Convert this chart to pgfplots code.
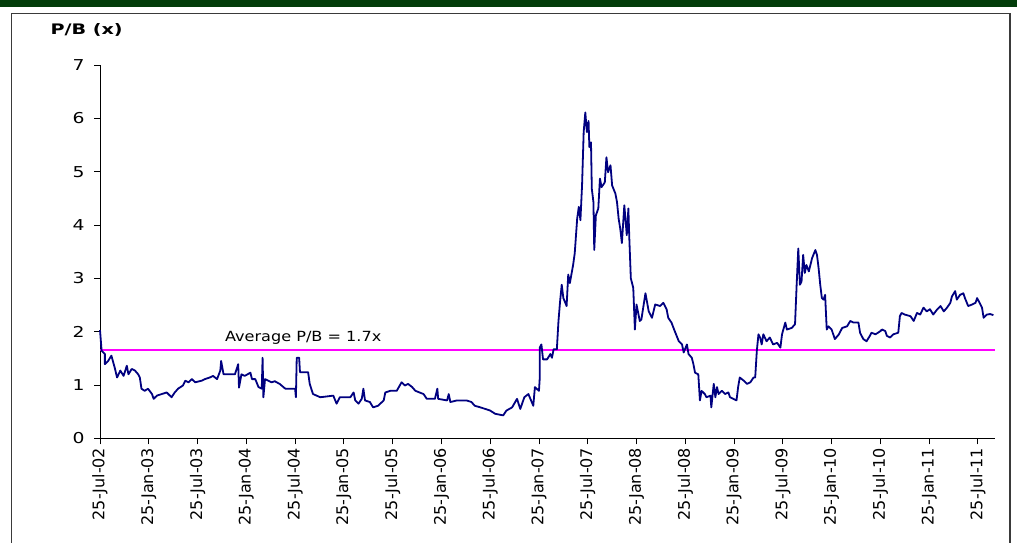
\documentclass[border=0pt]{standalone}
\usepackage{fontspec}
\setmainfont{DejaVu Sans}
\usepackage{graphicx}
\usepackage{pgfplots}
\pgfplotsset{compat=1.18}
\definecolor{pbline}{HTML}{000080}
\definecolor{avgline}{HTML}{FF00FF}
\definecolor{bargreen}{HTML}{033D0A}
\definecolor{framegray}{HTML}{3A3A3A}

% P/B multiple; x = months since 25-Jul-2002
\pgfplotstableread{
m v
0 2.03
0.2 1.64
0.6 1.58
0.6 1.39
1.0 1.45
1.4 1.55
1.8 1.33
2.1 1.14
2.5 1.27
2.9 1.17
3.3 1.36
3.5 1.20
3.9 1.30
4.3 1.27
4.7 1.20
4.9 1.14
5.1 0.93
5.5 0.89
5.9 0.93
6.4 0.83
6.6 0.74
7.0 0.80
7.6 0.83
8.2 0.86
8.8 0.77
9.2 0.86
9.6 0.93
10.2 0.99
10.5 1.08
10.9 1.05
11.3 1.11
11.7 1.05
12.5 1.08
12.9 1.11
13.5 1.14
13.9 1.17
14.4 1.11
14.8 1.27
14.9 1.45
15.2 1.20
15.8 1.20
16.6 1.20
17.0 1.39
17.1 0.95
17.4 1.20
17.8 1.17
18.5 1.23
18.7 1.11
19.1 1.11
19.5 0.96
19.9 0.93
20.0 1.51
20.1 0.77
20.3 1.11
20.7 1.08
21.1 1.05
21.5 1.07
22.1 1.02
22.8 0.93
24.0 0.93
24.1 0.77
24.2 1.51
24.5 1.51
24.6 1.24
25.6 1.24
25.8 1.02
26.2 0.83
27.1 0.77
28.7 0.80
29.1 0.65
29.5 0.77
30.8 0.77
31.2 0.86
31.4 0.71
31.8 0.65
32.2 0.74
32.4 0.93
32.6 0.71
33.2 0.68
33.6 0.58
34.2 0.61
34.9 0.71
35.1 0.86
35.7 0.89
36.5 0.89
37.1 1.05
37.5 0.99
37.9 1.02
38.4 0.96
38.8 0.89
39.8 0.83
40.2 0.74
41.2 0.74
41.5 0.93
41.6 0.74
42.7 0.71
42.9 0.83
43.1 0.68
43.9 0.71
45.1 0.71
45.7 0.68
46.1 0.61
46.8 0.58
48.0 0.52
48.6 0.46
49.6 0.43
50.0 0.52
50.7 0.58
51.3 0.74
51.7 0.55
52.2 0.77
52.7 0.83
53.3 0.61
53.5 0.96
54.0 0.89
54.1 1.14
54.1 1.70
54.3 1.76
54.5 1.48
55.0 1.48
55.4 1.58
55.6 1.51
55.8 1.67
56.2 1.67
56.4 2.20
56.6 2.57
56.8 2.88
57.0 2.63
57.4 2.48
57.6 3.07
57.8 2.91
58.2 3.25
58.4 3.47
58.7 4.12
58.9 4.34
59.1 4.09
59.3 4.74
59.5 5.74
59.7 6.11
59.9 5.74
60.1 5.95
60.2 5.46
60.4 5.55
60.5 4.68
60.7 4.43
60.8 3.53
61.0 4.18
61.3 4.31
61.5 4.87
61.7 4.71
62.1 4.80
62.3 5.27
62.5 4.99
62.8 5.12
63.0 4.74
63.4 4.59
63.6 4.43
63.8 4.12
64.0 3.93
64.2 3.66
64.5 4.37
64.8 3.81
65.0 4.31
65.1 3.81
65.3 3.00
65.6 2.82
65.8 2.04
66.0 2.51
66.4 2.20
66.6 2.23
67.1 2.72
67.5 2.38
67.9 2.26
68.3 2.51
68.9 2.48
69.3 2.54
69.7 2.42
69.9 2.26
70.3 2.17
70.7 2.01
71.2 1.82
71.6 1.76
71.8 1.61
72.2 1.76
72.4 1.58
72.8 1.51
73.0 1.39
73.2 1.23
73.6 1.20
73.8 0.71
74.0 0.89
74.4 0.83
74.6 0.77
75.1 0.80
75.2 0.58
75.5 1.02
75.7 0.77
75.9 0.96
76.1 0.83
76.5 0.89
76.9 0.83
77.3 0.86
77.5 0.77
77.9 0.74
78.3 0.71
78.5 0.96
78.7 1.14
79.2 1.08
79.6 1.02
80.0 1.05
80.4 1.14
80.6 1.14
80.8 1.64
81.0 1.95
81.2 1.89
81.4 1.76
81.6 1.95
82.0 1.82
82.4 1.89
82.8 1.76
83.3 1.79
83.7 1.70
83.9 1.95
84.3 2.17
84.5 2.04
85.1 2.07
85.5 2.14
85.7 2.88
85.9 3.56
86.1 2.88
86.3 2.94
86.5 3.44
86.7 3.10
86.9 3.25
87.2 3.13
87.6 3.38
88.0 3.53
88.2 3.44
88.4 3.19
88.6 2.88
88.8 2.63
89.0 2.60
89.2 2.69
89.4 2.04
89.6 2.10
90.0 2.04
90.4 1.86
90.9 1.95
91.3 2.07
91.9 2.10
92.3 2.20
92.7 2.17
93.3 2.17
93.5 1.98
93.9 1.86
94.3 1.82
94.7 1.92
94.9 1.98
95.4 1.95
96.0 2.01
96.2 2.04
96.6 2.01
96.8 1.92
97.2 1.89
97.6 1.95
98.2 1.98
98.4 2.29
98.6 2.35
99.0 2.32
99.7 2.29
100.1 2.20
100.5 2.35
100.9 2.32
101.3 2.45
101.7 2.38
102.1 2.42
102.5 2.32
103.0 2.42
103.4 2.48
103.8 2.38
104.2 2.45
104.6 2.54
104.8 2.66
105.2 2.76
105.4 2.60
105.8 2.69
106.2 2.72
106.4 2.63
106.8 2.48
107.3 2.51
107.7 2.54
107.9 2.63
108.3 2.51
108.5 2.45
108.7 2.26
109.1 2.32
109.5 2.33
109.9 2.31
}\pbdata

\begin{document}
\begin{tikzpicture}
\useasboundingbox (-100bp,-104.7bp) rectangle (917bp,438.3bp);
\fill[white] (-100bp,-104.7bp) rectangle (917bp,438.3bp);
\fill[bargreen] (-100bp,430.8bp) rectangle (917bp,440bp);
\draw[framegray, line width=1.2bp] (-88.3bp,-110bp) -- (-88.3bp,425bp) -- (910bp,425bp) -- (910bp,-110bp);
\begin{axis}[
  at={(0,0)}, anchor=south west,
  scale only axis, width=895bp, height=373.3bp,
  xmin=0, xmax=110.1, ymin=0, ymax=7,
  axis x line*=bottom, axis y line*=left,
  axis line style={black, line width=0.9bp},
  tick align=outside,
  tick style={black, line width=0.9bp},
  major tick length=6bp,
  xtick={0,6,...,108},
  xticklabels={25-Jul-02,25-Jan-03,25-Jul-03,25-Jan-04,25-Jul-04,25-Jan-05,25-Jul-05,25-Jan-06,25-Jul-06,25-Jan-07,25-Jul-07,25-Jan-08,25-Jul-08,25-Jan-09,25-Jul-09,25-Jan-10,25-Jul-10,25-Jan-11,25-Jul-11},
  xticklabel style={rotate=90, anchor=east, font=\fontsize{16bp}{18bp}\selectfont},
  ytick={0,1,...,7},
  yticklabel={\scalebox{1.25}[1]{\pgfmathprintnumber{\tick}}},
  yticklabel style={font=\fontsize{15bp}{17bp}\selectfont, xshift=-6bp},
  /pgf/number format/assume math mode=true,
  clip=false,
]
\addplot[avgline, line width=2.4bp] coordinates {(0,1.66) (110.1,1.66)};
\addplot[pbline, line width=1.8bp, line join=round] table[x=m, y=v] {\pbdata};
\node[font=\fontsize{14bp}{16bp}\selectfont] at (axis cs:25.0,1.89) {\scalebox{1.15}[1]{Average P/B = 1.7x}};
\end{axis}
\node[anchor=west, font=\bfseries\fontsize{14.5bp}{16bp}\selectfont] at (-53bp,408bp) {\scalebox{1.32}[1]{P/B (x)}};
\end{tikzpicture}
\end{document}
